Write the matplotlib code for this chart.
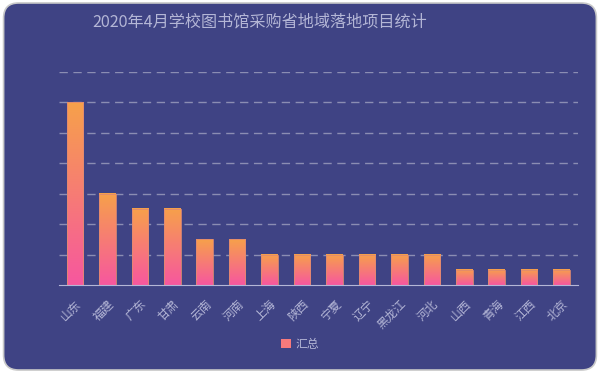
import numpy as np
import matplotlib
matplotlib.use('Agg')
import matplotlib.pyplot as plt
from matplotlib.colors import LinearSegmentedColormap
from matplotlib.patches import FancyBboxPatch, Patch

plt.rcParams['font.family'] = ['Noto Sans CJK SC', 'DejaVu Sans']

# donnees
provinces = ['山东', '福建', '广东', '甘肃', '云南', '河南', '上海', '陕西',
             '宁夏', '辽宁', '黑龙江', '河北', '山西', '青海', '江西', '北京']
counts = [12, 6, 5, 5, 3, 3, 2, 2, 2, 2, 2, 2, 1, 1, 1, 1]
series_name = '汇总'
title = '2020年4月学校图书馆采购省地域落地项目统计'

bg = '#3f4384'
txt = '#b4b6d6'
grad = LinearSegmentedColormap.from_list('g', ['#f6579f', '#f7a14a'])

fig = plt.figure(figsize=(6, 3.73), dpi=100, facecolor='white')
# fond arrondi
fig.patches.append(FancyBboxPatch((0.006, 0.008), 0.988, 0.984,
                                  boxstyle='round,pad=0,rounding_size=0.025',
                                  transform=fig.transFigure, facecolor=bg,
                                  edgecolor='#c9c9c9', linewidth=1.2,
                                  mutation_aspect=600 / 373, zorder=-10))

ax = fig.add_axes([0.098, 0.236, 0.865, 0.571])
ax.set_facecolor('none')

x = np.arange(len(provinces))
w = 0.51
g = np.linspace(0, 1, 256).reshape(-1, 1)
for xi, v in zip(x, counts):
    ax.imshow(g, extent=[xi - w / 2, xi + w / 2, 0, v], origin='lower',
              aspect='auto', cmap=grad, zorder=3)
    ax.bar(xi, v, width=w, facecolor='none', edgecolor='#e08a70',
           linewidth=0.6, zorder=4)

ax.set_xlim(-0.5, len(provinces) - 0.5)
ax.set_ylim(0, 14)
ax.set_yticks(np.arange(2, 15, 2))
ax.yaxis.grid(True, color='#8b8db3', linestyle=(0, (6, 4)), linewidth=1)
ax.set_axisbelow(True)
ax.tick_params(axis='y', length=0, labelleft=False)
ax.tick_params(axis='x', length=0, colors=txt, labelsize=8.5, pad=9)
ax.set_xticks(x)
ax.set_xticklabels(provinces, rotation=45, ha='right', rotation_mode='anchor')
for s in ['top', 'right', 'left']:
    ax.spines[s].set_visible(False)
ax.spines['bottom'].set_color('#b4b6d6')
ax.spines['bottom'].set_zorder(5)

fig.text(0.433, 0.94, title, ha='center', va='center', color=txt, fontsize=11.6)

leg = fig.legend(handles=[Patch(facecolor='#f77a7c', edgecolor='none')],
                 labels=[series_name], loc='center', bbox_to_anchor=(0.5, 0.077),
                 frameon=False, fontsize=8.5, handlelength=0.8, handleheight=0.8,
                 handletextpad=0.4)
for t in leg.get_texts():
    t.set_color(txt)

fig.savefig('out.png', dpi=100, facecolor='white')
